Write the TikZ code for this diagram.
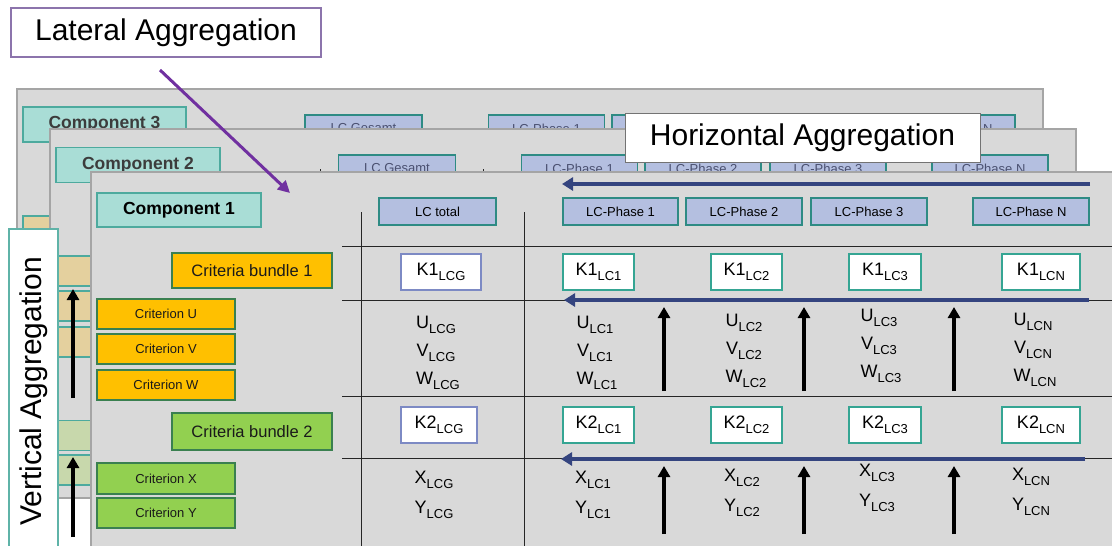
\documentclass[tikz,border=0pt]{standalone}
\usepackage{fontspec}
\setmainfont{Liberation Sans}
\usetikzlibrary{arrows.meta}
\definecolor{panelgray}{HTML}{D9D9D9}
\definecolor{panelline}{HTML}{A5A5A5}
\definecolor{compfill}{HTML}{A9DDD6}
\definecolor{compline}{HTML}{4DAA9E}
\definecolor{lcfill}{HTML}{B4BFE0}
\definecolor{lcline}{HTML}{2E8B84}
\definecolor{critorange}{HTML}{FFC000}
\definecolor{critgreen}{HTML}{92D050}
\definecolor{critline}{HTML}{3A8050}
\definecolor{tanfill}{HTML}{E4D09E}
\definecolor{sagefill}{HTML}{C8D8AC}
\definecolor{kteal}{HTML}{35A593}
\definecolor{klav}{HTML}{7D8AC4}
\definecolor{navyarrow}{HTML}{34447F}
\definecolor{lateralpurple}{HTML}{7030A0}
\definecolor{boxpurple}{HTML}{8C74AC}
\definecolor{vtealline}{HTML}{5FB3A8}
\definecolor{darktext}{HTML}{1A1A1A}
\definecolor{fadedtext}{HTML}{3C3C3C}
\definecolor{fadedlc}{HTML}{4A5070}
\newcommand{\kval}[2]{{\fontsize{18}{18}\selectfont #1}\raisebox{-5pt}{\fontsize{13}{13}\selectfont #2}}
\begin{document}
\begin{tikzpicture}[x=1pt,y=-1pt,
  panel/.style={fill=panelgray, draw=panelline, line width=1.2pt},
  compbox/.style={draw=compline, fill=compfill, line width=1.5pt, minimum width=164, minimum height=34, inner sep=0pt, font=\fontsize{17.5}{17.5}\selectfont\bfseries},
  lcbox/.style={draw=lcline, fill=lcfill, line width=1.3pt, minimum width=116, minimum height=27, inner sep=0pt, font=\fontsize{13}{13}\selectfont},
  bundle/.style={draw=critline, line width=1.5pt, minimum width=160, minimum height=35, inner sep=0pt, text=darktext, font=\fontsize{16.5}{16.5}\selectfont},
  crit/.style={draw=critline, line width=1.5pt, minimum width=138, minimum height=30, inner sep=0pt, text=darktext, font=\fontsize{13}{13}\selectfont},
  kbox/.style={draw=kteal, fill=white, line width=1.5pt, minimum height=36, inner sep=0pt},
  kboxlcg/.style={kbox, draw=klav},
  val/.style={inner sep=0pt, anchor=center},
  gridline/.style={draw=black!85, line width=0.9pt},
  harrow/.style={draw=navyarrow, line width=3.8pt, -{Triangle[length=11pt,width=13pt]}},
  varrow/.style={draw=black, line width=3.6pt, -{Triangle[length=11pt,width=12pt]}},
  callout/.style={fill=white, inner sep=0pt, font=\fontsize{30}{30}\selectfont}
]
\useasboundingbox (0,0) rectangle (1112,546);

% ---------- Layer 3 (back) ----------
\path[panel] (17,89) rectangle (1043,458);
\node[compbox, minimum width=163, minimum height=35, text=fadedtext] (comp3) at (104.5,124.5) {Component 3};
\node[lcbox, minimum width=117, text=fadedlc] (lc3g) at (363.5,128.5) {LC Gesamt};
\node[lcbox, text=fadedlc] (lc3p1) at (546.5,128.5) {LC-Phase 1};
\node[lcbox] (lc3p2) at (670,128.5) {};
\node[lcbox] (lc3p3) at (795,128.5) {};
\node[lcbox, text=fadedlc] (lc3pn) at (957,128.5) {LC-Phase N};
\node[crit, fill=tanfill, draw=compline] (c3u) at (92,231) {};

% ---------- Layer 2 ----------
\path[panel] (50,129) rectangle (1076,498);
\node[compbox, minimum height=35, text=fadedtext] (comp2) at (138,165) {Component 2};
\draw[gridline] (320,169) -- (320,498);
\draw[gridline] (483,169) -- (483,498);
\node[lcbox, minimum width=117, text=fadedlc] (lc2g) at (397,168.5) {LC Gesamt};
\node[lcbox, text=fadedlc] (lc2p1) at (579.5,168.5) {LC-Phase 1};
\node[lcbox, text=fadedlc] (lc2p2) at (703,168.5) {LC-Phase 2};
\node[lcbox, text=fadedlc] (lc2p3) at (828,168.5) {LC-Phase 3};
\node[lcbox, text=fadedlc] (lc2pn) at (990,168.5) {LC-Phase N};
\node[crit, fill=tanfill, draw=compline] (c2u) at (125,271) {};
\node[crit, fill=tanfill, draw=compline] (c2v) at (125,306) {};
\node[crit, fill=tanfill, draw=compline] (c2w) at (125,342) {};
\node[crit, fill=sagefill, draw=compline] (c2x) at (125,435.5) {};
\node[crit, fill=sagefill, draw=compline] (c2y) at (125,470) {};

% ---------- Layer 1 (front) ----------
\path[panel] (91,172) rectangle (1125,560);
\draw[gridline] (361,212) -- (361,560);
\draw[gridline] (524,212) -- (524,560);
\foreach \yy in {246,300,396,458} \draw[gridline] (342,\yy) -- (1125,\yy);

\node[compbox, text=black] (comp1) at (179,210) {Component 1};
\node[lcbox, minimum width=117] (lctot) at (437.5,211.5) {LC total};
\node[lcbox, minimum width=115] (lcp1) at (620.5,211.5) {LC-Phase 1};
\node[lcbox] (lcp2) at (744,211.5) {LC-Phase 2};
\node[lcbox] (lcp3) at (869,211.5) {LC-Phase 3};
\node[lcbox] (lcpn) at (1031,211.5) {LC-Phase N};

\node[bundle, fill=critorange] (cb1) at (252,270.5) {Criteria bundle 1};
\node[crit, fill=critorange] (cu) at (166,314) {Criterion U};
\node[crit, fill=critorange] (cv) at (166,349) {Criterion V};
\node[crit, fill=critorange] (cw) at (166,385) {Criterion W};
\node[bundle, fill=critgreen, minimum height=37] (cb2) at (252,431.5) {Criteria bundle 2};
\node[crit, fill=critgreen, minimum height=31] (cx) at (166,478.5) {Criterion X};
\node[crit, fill=critgreen] (cy) at (166,513) {Criterion Y};

\node[kboxlcg, minimum width=80] (k1g) at (441,272) {\kval{K1}{LCG}};
\node[kbox, minimum width=71] (k1c1) at (598.5,272) {\kval{K1}{LC1}};
\node[kbox, minimum width=71] (k1c2) at (746.5,272) {\kval{K1}{LC2}};
\node[kbox, minimum width=72] (k1c3) at (885,272) {\kval{K1}{LC3}};
\node[kbox, minimum width=78] (k1cn) at (1041,272) {\kval{K1}{LCN}};
\node[kboxlcg, minimum width=76] (k2g) at (439,425) {\kval{K2}{LCG}};
\node[kbox, minimum width=71] (k2c1) at (598.5,425) {\kval{K2}{LC1}};
\node[kbox, minimum width=71] (k2c2) at (746.5,425) {\kval{K2}{LC2}};
\node[kbox, minimum width=72] (k2c3) at (885,425) {\kval{K2}{LC3}};
\node[kbox, minimum width=78] (k2cn) at (1041,425) {\kval{K2}{LCN}};

\foreach \n/\xx/\dy in {CG/436/0, C1/595/0, C2/744/-2, C3/879/-7, CN/1033/-3} {
  \node[val] (u\n) at (\xx,325+\dy) {\kval{U}{L\n}};
  \node[val] (v\n) at (\xx,353+\dy) {\kval{V}{L\n}};
  \node[val] (w\n) at (\xx+2,381+\dy) {\kval{W}{L\n}};
  \node[val] (x\n) at (\xx-2,480+\dy) {\kval{X}{L\n}};
  \node[val] (y\n) at (\xx-2,510+\dy) {\kval{Y}{L\n}};
}

% horizontal aggregation arrows
\coordinate (ha0s) at (1090,184); \coordinate (ha0e) at (562,184);
\coordinate (ha1s) at (1089,300); \coordinate (ha1e) at (564,300);
\coordinate (ha2s) at (1085,459); \coordinate (ha2e) at (561,459);
\draw[harrow] (ha0s) -- (ha0e);
\draw[harrow] (ha1s) -- (ha1e);
\draw[harrow] (ha2s) -- (ha2e);

% vertical aggregation arrows in the table
\foreach \xx [count=\i] in {664,804,954} {
  \coordinate (vt\i s) at (\xx,391); \coordinate (vt\i e) at (\xx,307);
  \coordinate (vb\i s) at (\xx,534); \coordinate (vb\i e) at (\xx,466);
  \draw[varrow] (vt\i s) -- (vt\i e);
  \draw[varrow] (vb\i s) -- (vb\i e);
}

% ---------- Callouts ----------
\node[callout, draw=vtealline, line width=1.3pt, rotate=90, minimum width=325, minimum height=49] (vagg) at (33.5,391.5) {Vertical Aggregation};
\coordinate (lv1s) at (73,398); \coordinate (lv1e) at (73,289);
\coordinate (lv2s) at (73,537); \coordinate (lv2e) at (73,457);
\draw[varrow] (lv1s) -- (lv1e);
\draw[varrow] (lv2s) -- (lv2e);

\node[callout, draw=black!55, line width=1pt, minimum width=355, minimum height=49] (hagg) at (802.5,137.5) {Horizontal Aggregation};

\node[callout, draw=boxpurple, line width=1.5pt, minimum width=310, minimum height=49] (lagg) at (166,32.5) {Lateral Aggregation};
\coordinate (lats) at (160,70);
\coordinate (late) at (290,193);
\draw[draw=lateralpurple, line width=3pt, -{Triangle[length=12pt,width=12pt]}] (lats) -- (late);
\end{tikzpicture}
\end{document}
